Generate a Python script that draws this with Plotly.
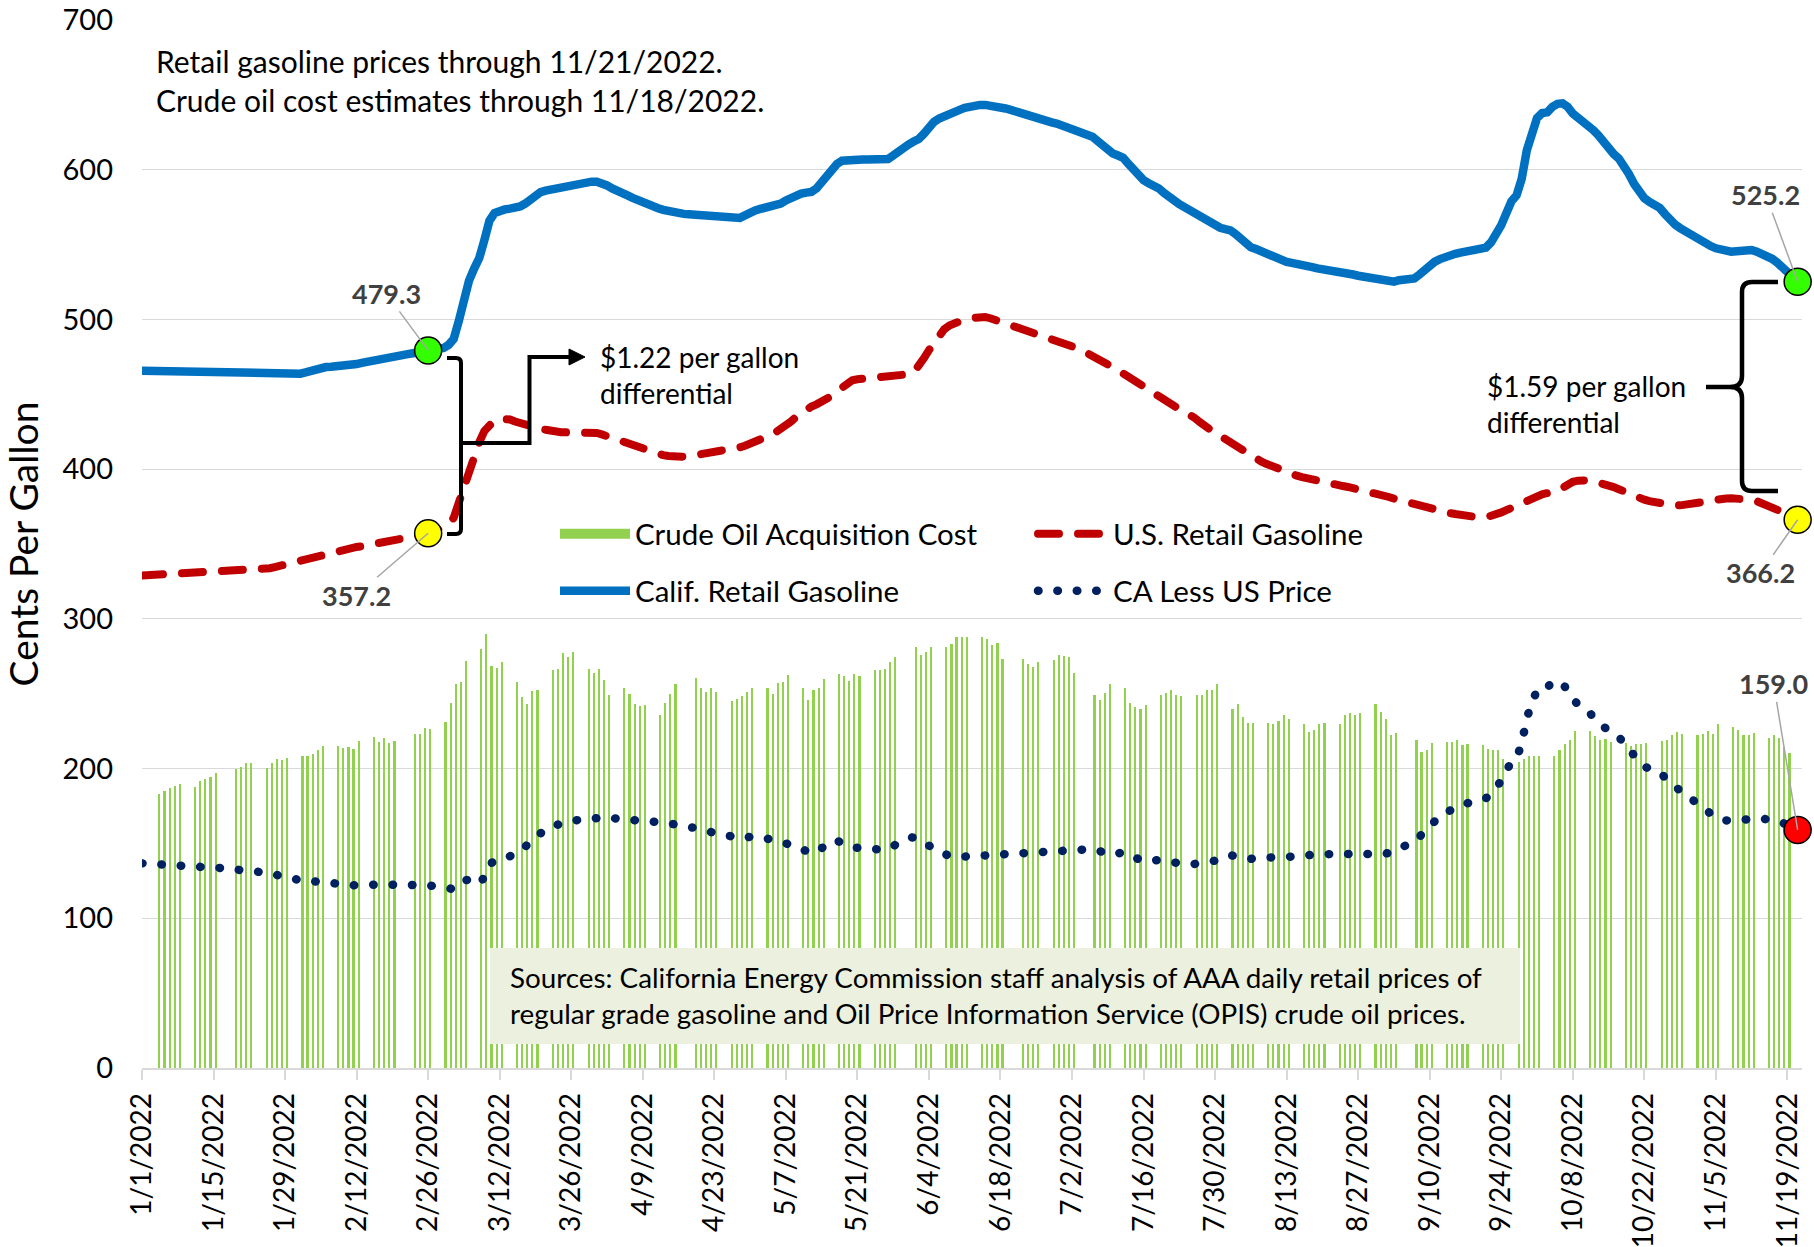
import pandas as pd
import plotly.graph_objects as go

# ---------------- data (cents per gallon) ----------------
# California AAA daily average retail regular gasoline, 1/1/2022 .. 11/21/2022
ca_retail = [
    465.7, 465.6, 465.6, 465.5, 465.5, 465.6, 465.4,
    465.3, 465.2, 465.0, 465.1, 465.0, 464.9, 464.9,
    464.8, 464.8, 464.7, 464.6, 464.5, 464.4, 464.4,
    464.3, 464.2, 464.0, 463.9, 463.8, 463.7, 463.6,
    463.5, 463.5, 463.6, 463.8, 464.6, 465.8, 466.9,
    467.8, 468.2, 468.4, 468.5, 468.6, 468.8, 469.3,
    470.2, 471.0, 471.8, 472.4, 472.8, 473.3, 474.0,
    474.8, 475.5, 476.2, 476.8, 477.4, 478.0, 478.7,
    479.3, 479.8, 480.3, 480.9, 483.0, 487.0, 499.0,
    513.0, 526.0, 534.0, 541.0, 553.0, 566.0, 571.0,
    573.0, 573.5, 574.0, 574.3, 575.5, 577.4, 580.0,
    583.0, 585.0, 586.0, 586.8, 587.5, 588.2, 588.8,
    589.6, 590.4, 591.1, 591.6, 592.0, 592.0, 591.2,
    589.5, 587.5, 585.5, 584.0, 582.8, 581.2, 579.6,
    578.0, 576.8, 575.5, 574.3, 573.2, 572.3, 571.4,
    570.8, 570.5, 570.3, 570.0, 569.6, 569.2, 568.9,
    568.6, 568.5, 568.4, 568.2, 567.8, 567.8, 569.5,
    571.5, 572.8, 573.8, 574.5, 575.2, 576.0, 577.4,
    579.5, 581.5, 583.0, 584.0, 584.7, 585.2, 587.5,
    592.0, 597.0, 601.0, 603.8, 606.0, 606.5, 606.6,
    606.7, 606.8, 606.8, 606.9, 606.8, 606.9, 607.2,
    609.5, 612.5, 614.8, 616.8, 618.8, 620.5, 624.0,
    628.5, 632.0, 634.2, 636.0, 637.5, 638.6, 640.0,
    641.3, 642.3, 643.0, 643.3, 643.3, 643.0, 642.5,
    641.8, 640.9, 640.0, 638.8, 637.7, 636.6, 635.4,
    634.3, 633.3, 632.4, 631.6, 630.8, 629.5, 628.2,
    626.8, 625.6, 624.6, 623.6, 622.0, 619.2, 616.0,
    613.0, 610.8, 609.5, 608.0, 604.0, 600.0, 596.0,
    593.0, 591.0, 589.5, 587.5, 584.5, 581.5, 578.8,
    577.0, 575.0, 573.0, 570.5, 568.0, 566.0, 564.0,
    562.3, 561.2, 560.3, 559.5, 557.0, 553.8, 550.6,
    548.2, 547.0, 545.5, 544.0, 542.2, 540.2, 539.0,
    538.4, 537.8, 537.4, 536.8, 535.9, 534.9, 534.1,
    533.6, 533.3, 533.1, 532.8, 532.0, 531.0, 530.0,
    529.2, 528.5, 528.2, 527.6, 526.6, 525.6, 524.8,
    525.2, 526.2, 526.8, 527.1, 527.4, 530.0, 533.5,
    536.5, 538.6, 540.3, 541.8, 543.0, 543.8, 544.6,
    545.3, 545.7, 546.0, 546.3, 548.0, 551.5, 556.5,
    563.0, 571.0, 579.0, 583.0, 594.0, 613.0, 626.0,
    634.5, 637.8, 638.3, 642.0, 644.0, 644.3, 642.0,
    637.5, 634.8, 633.6, 631.0, 626.5, 623.0, 618.5,
    614.0, 610.5, 607.5, 603.0, 597.0, 590.5, 585.0,
    581.0, 578.5, 576.5, 574.5, 570.5, 566.5, 563.4,
    561.0, 558.8, 557.0, 555.6, 553.8, 551.0, 549.0,
    547.5, 546.5, 545.8, 545.3, 545.6, 546.2, 546.7,
    546.4, 545.3, 544.0, 542.4, 540.5, 538.0, 535.3,
    532.0, 528.5, 525.2,
]

# U.S. AAA daily average retail regular gasoline, 1/1/2022 .. 11/21/2022
us_retail = [
    329.0, 329.2, 329.4, 329.6, 329.8, 330.0, 330.1,
    330.2, 330.3, 330.4, 330.5, 330.6, 330.7, 330.9,
    331.0, 331.1, 331.2, 331.4, 331.6, 331.8, 332.1,
    332.4, 332.7, 333.0, 333.3, 333.8, 334.6, 335.5,
    336.4, 337.3, 338.2, 339.0, 340.0, 341.0, 342.0,
    342.9, 343.8, 344.6, 345.4, 346.1, 346.8, 347.4,
    348.0, 348.5, 349.0, 349.5, 350.1, 350.8, 351.5,
    352.2, 352.9, 353.6, 354.3, 355.0, 355.6, 356.3,
    357.2, 358.3, 359.6, 361.0, 363.5, 367.5, 378.0,
    388.0, 400.0, 409.0, 418.0, 425.5, 430.0, 432.6,
    433.6, 433.9, 433.2, 431.8, 430.6, 429.5, 428.6,
    427.8, 427.0, 426.3, 425.5, 425.0, 424.7, 424.6,
    424.7, 424.9, 425.1, 425.0, 424.7, 424.2, 423.2,
    422.0, 420.6, 419.2, 417.9, 416.7, 415.5, 414.3,
    412.9, 411.7, 410.8, 410.0, 409.3, 408.8, 408.4,
    408.2, 408.3, 408.6, 409.1, 409.8, 410.6, 411.4,
    412.1, 412.5, 412.8, 413.2, 413.8, 414.6, 415.6,
    416.8, 418.0, 419.4, 421.0, 422.8, 424.6, 426.5,
    428.8, 431.8, 434.8, 437.6, 440.0, 441.8, 443.3,
    444.8, 446.6, 449.0, 452.0, 455.0, 457.6, 459.3,
    460.0, 460.3, 460.5, 460.6, 460.7, 460.8, 461.0,
    461.3, 461.7, 462.4, 463.4, 464.6, 468.5, 474.0,
    479.5, 485.0, 490.0, 493.5, 496.0, 497.8, 499.0,
    500.0, 500.8, 501.5, 501.8, 501.6, 500.8, 499.7,
    498.6, 497.5, 496.4, 495.3, 494.1, 493.0, 491.9,
    490.8, 489.7, 488.6, 487.4, 486.2, 485.0, 483.6,
    482.2, 480.8, 479.3, 477.6, 475.8, 474.0, 472.1,
    470.2, 468.4, 466.2, 463.9, 461.6, 459.3, 457.0,
    454.8, 452.6, 450.5, 448.6, 446.4, 444.0, 441.8,
    440.0, 438.5, 437.0, 434.2, 431.4, 428.6, 426.3,
    424.2, 422.2, 420.0, 417.6, 415.2, 412.8, 410.5,
    408.5, 406.8, 405.2, 403.6, 402.1, 400.6, 399.2,
    397.8, 396.6, 395.6, 394.7, 393.8, 392.9, 392.0,
    391.2, 390.5, 389.9, 389.3, 388.7, 388.1, 387.4,
    386.7, 386.0, 385.3, 384.4, 383.5, 382.5, 381.4,
    380.3, 379.3, 378.3, 377.3, 376.4, 375.4, 374.4,
    373.5, 372.7, 372.0, 371.3, 370.6, 370.0, 369.4,
    368.8, 368.3, 367.9, 367.6, 367.8, 368.5, 369.7,
    371.1, 372.6, 374.2, 375.8, 377.5, 379.0, 380.4,
    381.8, 383.2, 384.0, 384.5, 385.5, 387.5, 390.2,
    391.5, 392.3, 392.7, 392.6, 392.0, 391.2, 390.4,
    389.4, 388.0, 386.6, 385.0, 383.3, 381.9, 380.7,
    379.6, 378.6, 377.8, 377.0, 376.4, 376.0, 375.8,
    375.8, 376.0, 376.5, 377.1, 377.8, 378.5, 379.2,
    379.8, 380.2, 380.4, 380.5, 380.5, 380.5, 380.3,
    379.6, 378.6, 377.4, 376.0, 374.5, 373.0, 371.4,
    369.7, 368.0, 366.2,
]

# Crude oil acquisition cost, one value per trading day 1/3/2022 .. 11/18/2022
crude_cost = [
    183.3, 184.9, 186.7, 188.4, 189.4,
    187.7, 191.8, 192.9, 194.4, 197.1,
    199.6, 201.1, 203.4, 203.4,
    200.7, 203.4, 206.3, 205.6, 207.1,
    208.7, 208.7, 209.6, 212.3, 215.1,
    214.9, 213.8, 214.5, 213.4, 218.1,
    221.2, 217.8, 220.7, 217.1, 218.5,
    223.0, 223.0, 226.8, 226.3,
    230.8, 243.5, 256.8, 257.9, 271.9,
    280.2, 290.2, 268.6, 267.3, 271.3,
    257.9, 247.9, 242.8, 251.7, 252.8,
    265.7, 266.4, 277.3, 274.6, 277.7,
    266.8, 263.9, 266.2, 259.0, 249.0,
    254.1, 250.1, 243.0, 241.7, 242.3,
    236.1, 243.9, 249.7, 256.2,
    260.2, 253.5, 251.2, 253.5, 251.2,
    245.0, 246.8, 248.3, 251.2, 254.1,
    254.1, 249.5, 257.2, 257.9, 262.4,
    253.5, 246.1, 252.8, 253.5, 259.5,
    263.0, 261.7, 258.6, 263.0, 261.7,
    265.7, 265.7, 266.8, 271.3, 274.2,
    281.3, 275.7, 278.0, 281.3,
    280.9, 283.5, 288.0, 288.0, 287.6,
    288.0, 286.4, 282.4, 284.0, 273.5,
    273.5, 269.7, 267.9, 271.3,
    272.4, 275.7, 275.3, 274.6, 263.9,
    249.0, 245.7, 250.6, 256.4,
    254.1, 243.9, 240.8, 239.5, 242.3,
    249.0, 250.6, 252.8, 249.0, 248.3,
    249.0, 249.0, 252.4, 252.8, 256.4,
    240.1, 243.0, 234.5, 230.5, 230.5,
    230.5, 230.1, 231.8, 235.7, 233.4,
    230.1, 224.5, 226.1, 229.6, 230.5,
    230.1, 235.7, 236.8, 235.7, 237.2,
    243.0, 237.9, 233.4, 222.3, 223.8,
    219.4, 211.1, 212.3, 217.1,
    217.8, 217.8, 219.4, 215.6, 216.3,
    215.6, 213.4, 212.7, 212.3, 206.7,
    204.4, 206.7, 208.3, 208.3, 208.3,
    208.3, 212.7, 216.7, 218.9, 225.0,
    225.0, 221.6, 218.9, 220.0, 217.8,
    217.1, 214.9, 216.3, 216.7, 217.1,
    218.5, 218.9, 222.3, 224.5, 223.4,
    222.3, 223.4, 225.2, 223.4, 230.1,
    227.8, 225.6, 222.3, 222.3, 223.8,
    220.7, 222.3, 220.7, 214.5, 210.5,
]
market_holidays = ["2022-01-17", "2022-02-21", "2022-04-15", "2022-05-30",
                   "2022-06-20", "2022-07-04", "2022-09-05"]
series_names = ["Crude Oil Acquisition Cost", "U.S. Retail Gasoline",
                "Calif. Retail Gasoline", "CA Less US Price"]
highlight_date = "2022-02-26"

dates = pd.date_range("2022-01-01", periods=len(ca_retail), freq="D")
crude_dates = [d for d in pd.bdate_range("2022-01-03", "2022-11-18")
               if d.strftime("%Y-%m-%d") not in market_holidays]
assert len(crude_dates) == len(crude_cost)
assert len(us_retail) == len(ca_retail)
ca_less_us = [round(c - u, 1) for c, u in zip(ca_retail, us_retail)]

# ---------------- geometry helpers ----------------
W, H = 1814, 1247
L, R, T, B = 142, 12, 20, 179
PW, PH = W - L - R, H - T - B
DAY = 86400000
FONT = "Lato, Carlito, Calibri, sans-serif"


def fx(x):
    return (x - L) / PW


def fy(y):
    return (H - B - y) / PH


def path(points):
    out = []
    for p in points:
        if isinstance(p, str):
            out.append(p)
        else:
            out.append(f"{fx(p[0]):.5f},{fy(p[1]):.5f}")
    return " ".join(out)


x_start = dates[0]
x_end = dates[0] + pd.Timedelta(days=324.85)

fig = go.Figure()

fig.add_trace(go.Bar(
    x=crude_dates, y=crude_cost, name=series_names[0],
    marker=dict(color="#92D050", line=dict(width=0)),
    width=0.42 * DAY, offset=1.19 * DAY, showlegend=False,
))
# legend swatch for the crude bars
fig.add_trace(go.Scatter(
    x=[None], y=[None], mode="lines", name=series_names[0],
    line=dict(color="#92D050", width=18), legend="legend",
))
fig.add_trace(go.Scatter(
    x=dates, y=ca_retail, mode="lines", name=series_names[2],
    line=dict(color="#0070C0", width=8.5), legend="legend2",
))
fig.add_trace(go.Scatter(
    x=dates, y=us_retail, mode="lines", name=series_names[1],
    line=dict(color="#C00000", width=8, dash="21px,19px"), legend="legend",
))
fig.add_trace(go.Scatter(
    x=dates, y=ca_less_us, mode="lines", name=series_names[3],
    line=dict(color="#002060", width=8.5, dash="0.5px,18.9px"), legend="legend2",
))

hi = dates.get_loc(pd.Timestamp(highlight_date))
pt_x = [dates[hi], dates[-1], dates[hi], dates[-1], dates[-1]]
pt_y = [ca_retail[hi], ca_retail[-1], us_retail[hi], us_retail[-1], ca_less_us[-1]]
pt_c = ["#33FF00", "#33FF00", "#FFFF00", "#FFFF00", "#FF0000"]
fig.add_trace(go.Scatter(
    x=pt_x, y=pt_y, mode="markers", showlegend=False, cliponaxis=False,
    marker=dict(size=27, color=pt_c, line=dict(color="black", width=1.5)),
))

label_offsets = [(-42, -57), (-32, -87), (-72, 62), (-37, 53), (-24, -146)]
annotations = []
for (xx, yy), (ax, ay) in zip(zip(pt_x, pt_y), label_offsets):
    annotations.append(dict(
        x=xx, y=yy, xref="x", yref="y", text=f"<b>{yy:.1f}</b>",
        showarrow=True, arrowhead=0, arrowwidth=1.5, arrowcolor="#A6A6A6",
        ax=ax, ay=ay, standoff=0,
        font=dict(family=FONT, size=27, color="#404040"),
    ))

annotations += [
    dict(xref="paper", yref="paper", x=fx(154), y=fy(81), xanchor="left", yanchor="middle",
         text="Retail gasoline prices through 11/21/2022.<br>Crude oil cost estimates through 11/18/2022.",
         align="left", showarrow=False, font=dict(family=FONT, size=30, color="black")),
    dict(xref="paper", yref="paper", x=fx(598), y=fy(375), xanchor="left", yanchor="middle",
         text="$1.22 per gallon<br>differential", align="left", showarrow=False,
         font=dict(family=FONT, size=28, color="black")),
    dict(xref="paper", yref="paper", x=fx(1485), y=fy(404), xanchor="left", yanchor="middle",
         text="$1.59 per gallon<br>differential", align="left", showarrow=False,
         font=dict(family=FONT, size=28, color="black")),
    dict(xref="paper", yref="paper", x=fx(508), y=fy(995), xanchor="left", yanchor="middle",
         text="Sources: California Energy Commission staff analysis of AAA daily retail prices of<br>"
              "regular grade gasoline and Oil Price Information Service (OPIS) crude oil prices.",
         align="left", showarrow=False, font=dict(family=FONT, size=27.8, color="black")),
]

shapes = [
    # sources box
    dict(type="rect", xref="paper", yref="paper", x0=fx(490), x1=fx(1520), y0=fy(1044), y1=fy(948),
         fillcolor="#EBF1DE", line=dict(width=0), layer="above"),
    # left bracket
    dict(type="path", xref="paper", yref="paper", layer="above",
         path=path(["M", (447, 358), "L", (456, 358), "Q", (461, 358), (461, 363),
                    "L", (461, 529), "Q", (461, 534), (456, 534), "L", (447, 534)]),
         line=dict(color="black", width=4)),
    # elbow connector
    dict(type="path", xref="paper", yref="paper", layer="above",
         path=path(["M", (461, 443), "L", (529.5, 443), "L", (529.5, 357), "L", (571, 357)]),
         line=dict(color="black", width=4)),
    dict(type="path", xref="paper", yref="paper", layer="above",
         path=path(["M", (569, 349), "L", (585, 357), "L", (569, 365), "Z"]),
         fillcolor="black", line=dict(color="black", width=1)),
    # right curly brace
    dict(type="path", xref="paper", yref="paper", layer="above",
         path=path(["M", (1778, 282), "L", (1752, 282), "Q", (1742, 282), (1742, 292),
                    "L", (1742, 376), "Q", (1742, 387), (1730, 387), "L", (1706, 387),
                    "M", (1730, 387), "Q", (1742, 387), (1742, 398),
                    "L", (1742, 481), "Q", (1742, 491), (1752, 491), "L", (1778, 491)]),
         line=dict(color="black", width=4.5)),
]

legend_common = dict(orientation="h", xanchor="left", yanchor="middle",
                     font=dict(family=FONT, size=29.5, color="black"),
                     itemwidth=70, entrywidth=393, entrywidthmode="pixels",
                     bgcolor="rgba(0,0,0,0)", borderwidth=0, traceorder="normal")

fig.update_layout(
    width=W, height=H, autosize=False,
    margin=dict(l=L, r=R, t=T, b=B, pad=0, autoexpand=False),
    paper_bgcolor="white", plot_bgcolor="white",
    font=dict(family=FONT, color="black", size=29),
    barmode="overlay", bargap=0,
    xaxis=dict(type="date", range=[x_start, x_end], tickmode="linear",
               tick0="2022-01-01", dtick=14 * DAY, tickformat="%-m/%-d/%Y",
               tickangle=-90, ticks="outside", ticklen=10, tickwidth=1.5,
               tickcolor="#D9D9D9", showline=True, linecolor="#D9D9D9", linewidth=1.5,
               showgrid=False, zeroline=False, tickfont=dict(size=28, color="black"),
               ticklabelstandoff=2, automargin=False),
    yaxis=dict(range=[0, 700], tickmode="linear", tick0=0, dtick=100,
               showgrid=True, gridcolor="#D9D9D9", gridwidth=1.3,
               zeroline=False, showline=False, ticks="",
               tickfont=dict(size=29, color="black"), ticklabelstandoff=28,
               automargin=False,
               title=dict(text="Cents Per Gallon", font=dict(size=39, color="black"), standoff=12)),
    legend=dict(x=fx(555), y=fy(534), **legend_common),
    legend2=dict(x=fx(555), y=fy(591), **legend_common),
    shapes=shapes,
    annotations=annotations,
)

post = ("var s=document.createElement('style');"
        "s.textContent='html,body{margin:0;padding:0}.js-line[style*=dasharray]{stroke-linecap:round}';"
        "document.head.appendChild(s);")
fig.write_html("out.html", post_script=post, config={"displayModeBar": False})
